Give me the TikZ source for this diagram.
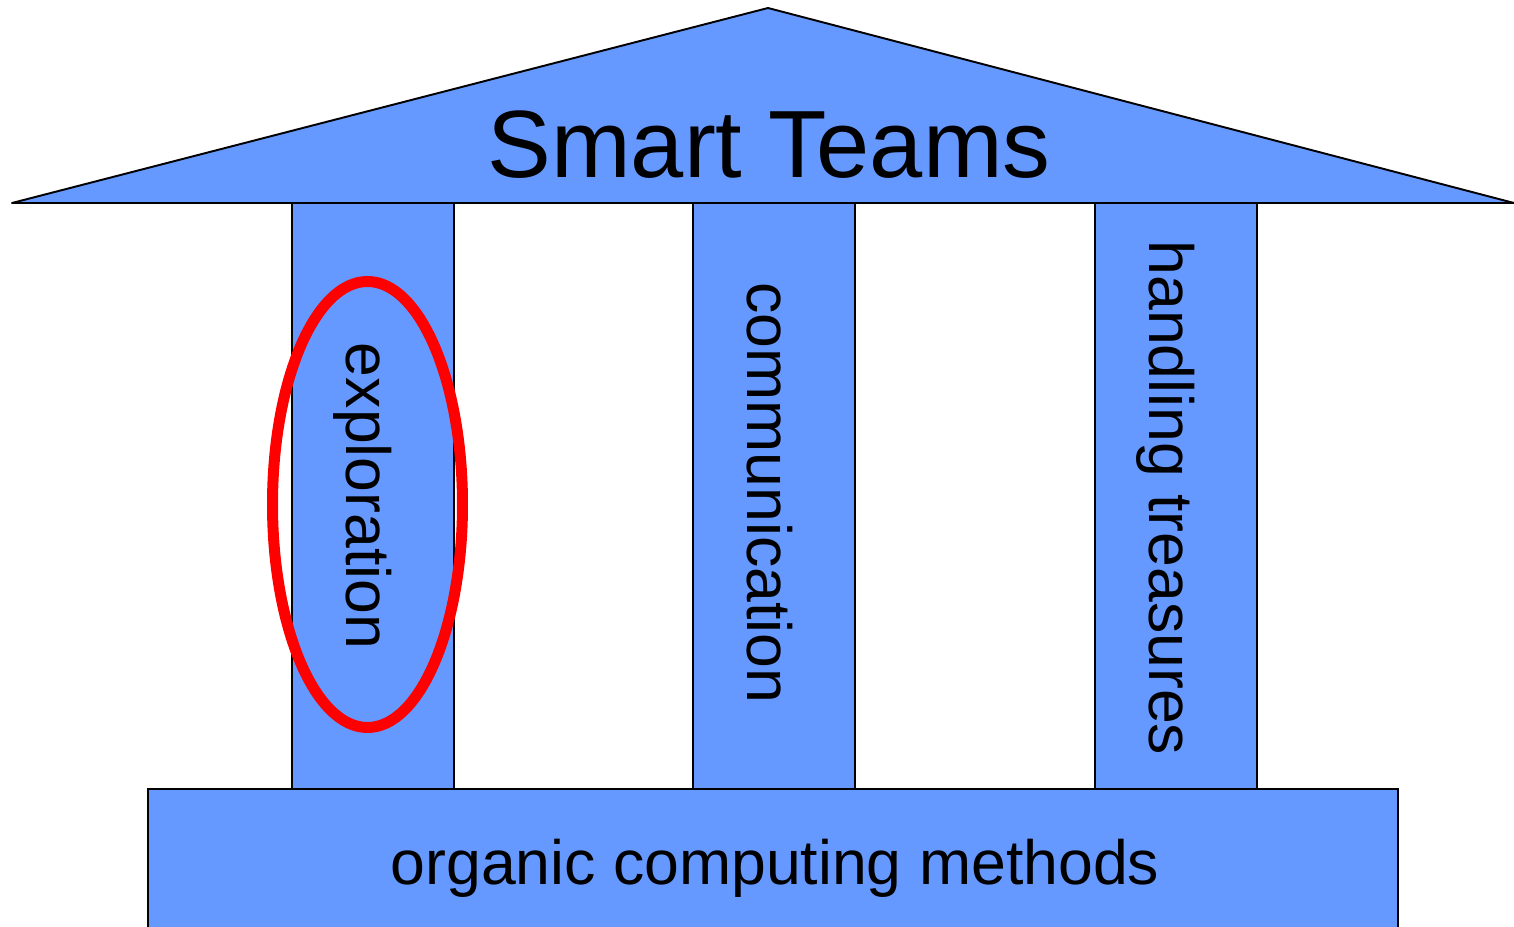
\documentclass[tikz,border=0pt]{standalone}
\usepackage{fontspec}
\setmainfont{Liberation Sans}
\definecolor{myblue}{RGB}{102,153,255}
\definecolor{myred}{RGB}{255,0,0}

\begin{document}
\begin{tikzpicture}[
        block/.style={draw=black, fill=myblue},
        bigtext/.style={font=\fontsize{27.2}{32}\selectfont, anchor=base},
        midtext/.style={font=\fontsize{17.8}{21}\selectfont, anchor=base},
        pillartext/.style={midtext, rotate=-90}]
        \def\W{15.14}
        \def\Hp{9.27}
        \def\ry{-2.03}   % underside of the roof
        \def\by{-7.89}   % top of the base

        \useasboundingbox (0,0) rectangle (\W,-\Hp);

        % -- Three pillars between roof and base --
        \foreach \x in {2.92,6.93,10.95}
            \draw[block,line width=0.4pt] (\x,\ry) rectangle (\x+1.62,\by);

        % -- Base slab, runs off the bottom edge --
        \draw[block,line width=0.7pt] (1.48,-9.40) rectangle (13.98,\by);

        % -- Roof triangle --
        \draw[block,line width=0.55pt,line join=round] (0.12,\ry) -- (7.68,-0.08) -- (\W,\ry) -- cycle;

        % -- Labels --
        \node[bigtext] (roof) at (7.69,-1.78) {Smart Teams};
        \node[pillartext] (explore) at (3.47,-4.96) {exploration};
        \node[pillartext] (comm) at (7.47,-4.93) {communication};
        \node[pillartext] (treasure) at (11.49,-4.98) {handling treasures};
        \node[midtext] (base) at (7.75,-8.85) {organic computing methods};

        % -- Red ring round the first pillar --
        \draw[myred,line width=0.11cm] (3.675,-5.045) ellipse [x radius=0.95, y radius=2.23];

    \end{tikzpicture}
\end{document}
